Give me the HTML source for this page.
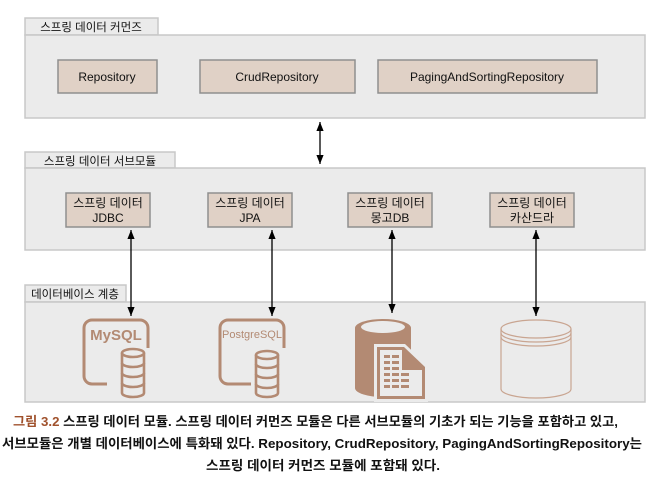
<!DOCTYPE html>
<html><head><meta charset="utf-8"><style>
html,body{margin:0;padding:0;background:#fff;}
svg{display:block;font-family:"Liberation Sans","Noto Sans CJK KR",sans-serif;}
</style></head><body>
<svg width="668" height="496" viewBox="0 0 668 496" xmlns="http://www.w3.org/2000/svg">
<defs>
<marker id="a" viewBox="0 0 10 10" refX="10" refY="5" markerWidth="7" markerHeight="7" orient="auto-start-reverse"><path d="M0,1 L10,5 L0,9 z" fill="#000"/></marker>
</defs>
<g stroke="#c8c8c8" stroke-width="1.5" fill="#ebebeb">
<rect x="25" y="18" width="133" height="17"/>
<rect x="25" y="35" width="620" height="83"/>
<rect x="25" y="152" width="150" height="16"/>
<rect x="25" y="168" width="620" height="82"/>
<rect x="25" y="285" width="101" height="17"/>
<rect x="25" y="302" width="620" height="100"/>
</g>
<g font-size="11.5" fill="#111">
<text x="91" y="31" text-anchor="middle">스프링 데이터 커먼즈</text>
<text x="100" y="165" text-anchor="middle">스프링 데이터 서브모듈</text>
<text x="75" y="298" text-anchor="middle">데이터베이스 계층</text>
</g>
<g stroke="#8f8f8f" stroke-width="1.5" fill="#e0d1c6">
<rect x="58" y="60" width="99" height="33"/>
<rect x="200" y="60" width="155" height="33"/>
<rect x="378" y="60" width="219" height="33"/>
<rect x="66" y="193" width="84" height="34"/>
<rect x="208" y="193" width="84" height="34"/>
<rect x="348" y="193" width="84" height="34"/>
<rect x="490" y="193" width="84" height="34"/>
</g>
<g font-size="12" fill="#111" text-anchor="middle">
<text x="107" y="81">Repository</text>
<text x="277" y="81">CrudRepository</text>
<text x="487" y="81">PagingAndSortingRepository</text>
<text x="108" y="207">스프링 데이터</text><text x="108" y="222">JDBC</text>
<text x="250" y="207">스프링 데이터</text><text x="250" y="222">JPA</text>
<text x="390" y="207">스프링 데이터</text><text x="390" y="222">몽고DB</text>
<text x="532" y="207">스프링 데이터</text><text x="532" y="222">카산드라</text>
</g>
<g stroke="#000" stroke-width="1.3" fill="none">
<line x1="320" y1="122" x2="320" y2="164" marker-start="url(#a)" marker-end="url(#a)"/>
<line x1="131" y1="230" x2="131" y2="316" marker-start="url(#a)" marker-end="url(#a)"/>
<line x1="272" y1="230" x2="272" y2="316" marker-start="url(#a)" marker-end="url(#a)"/>
<line x1="392" y1="230" x2="392" y2="313" marker-start="url(#a)" marker-end="url(#a)"/>
<line x1="536" y1="230" x2="536" y2="316" marker-start="url(#a)" marker-end="url(#a)"/>
</g>
<!-- MySQL -->
<g stroke="#b38a73" fill="none" stroke-width="3">
<path d="M107,384 H92 a8,8 0 0 1 -8,-8 V328 a8,8 0 0 1 8,-8 H140 a8,8 0 0 1 8,8 V348"/>
<path d="M251,384 H228 a8,8 0 0 1 -8,-8 V328 a8,8 0 0 1 8,-8 H276 a8,8 0 0 1 8,8 V348"/>
</g>
<text x="116" y="340" font-size="15" font-weight="bold" fill="#b38a73" text-anchor="middle">MySQL</text>
<text x="252" y="338" font-size="11" fill="#b38a73" text-anchor="middle">PostgreSQL</text>
<g stroke="#b38a73" fill="#ebebeb" stroke-width="2.6">
<path d="M122,353 a11,4 0 0 1 22,0 V393 a11,4 0 0 1 -22,0 z"/>
<path d="M122,353 a11,4 0 0 0 22,0 M122,363 a11,4 0 0 0 22,0 M122,373 a11,4 0 0 0 22,0 M122,383 a11,4 0 0 0 22,0" fill="none"/>
<path d="M256,355 a11,4 0 0 1 22,0 V393 a11,4 0 0 1 -22,0 z"/>
<path d="M256,355 a11,4 0 0 0 22,0 M256,364 a11,4 0 0 0 22,0 M256,374 a11,4 0 0 0 22,0 M256,384 a11,4 0 0 0 22,0" fill="none"/>
</g>
<!-- Mongo -->
<path d="M355,328 a28,9 0 0 1 56,0 V388 a28,9 0 0 1 -56,0 z" fill="#b38a73"/>
<ellipse cx="383" cy="327" rx="22" ry="6" fill="#ebebeb"/>
<path d="M374,344 H405 L428,366 V402 H374 z" fill="#ebebeb"/>
<path d="M377,347 H404 L425,367 V399 H377 z" fill="#b38a73"/>
<path d="M380,350 H402 V370 H422 V396 H380 z" fill="#ebebeb"/>
<g fill="#b38a73">
<rect x="384" y="355" width="6" height="3"/><rect x="392" y="355" width="7" height="3"/>
<rect x="384" y="361" width="6" height="3"/><rect x="392" y="361" width="7" height="3"/>
<rect x="384" y="367" width="6" height="3"/><rect x="392" y="367" width="7" height="3"/>
<rect x="384" y="373" width="6" height="3"/><rect x="392" y="373" width="7" height="3"/><rect x="401" y="373" width="8" height="3"/>
<rect x="384" y="379" width="6" height="3"/><rect x="392" y="379" width="7" height="3"/><rect x="401" y="379" width="8" height="3"/>
<rect x="384" y="385" width="6" height="3"/><rect x="392" y="385" width="7" height="3"/><rect x="401" y="385" width="8" height="3"/>
</g>
<!-- Cassandra -->
<g stroke="#c9a591" fill="none" stroke-width="1.2">
<path d="M501,329 a35,9 0 0 1 70,0 V389 a35,9 0 0 1 -70,0 z"/>
<path d="M501,329 a35,9 0 0 0 70,0 M501,333 a35,9 0 0 0 70,0 M501,337 a35,9 0 0 0 70,0"/>
</g>
<!-- caption -->
<g font-size="13" font-weight="bold" fill="#111">
<text x="13" y="426" textLength="605" lengthAdjust="spacingAndGlyphs"><tspan fill="#a0522d">그림 3.2</tspan>  스프링 데이터 모듈. 스프링 데이터 커먼즈 모듈은 다른 서브모듈의 기초가 되는 기능을 포함하고 있고,</text>
<text x="2" y="448" textLength="640" lengthAdjust="spacingAndGlyphs">서브모듈은 개별 데이터베이스에 특화돼 있다. Repository, CrudRepository, PagingAndSortingRepository는</text>
<text x="206" y="470" textLength="234" lengthAdjust="spacingAndGlyphs">스프링 데이터 커먼즈 모듈에 포함돼 있다.</text>
</g>
</svg>
</body></html>
